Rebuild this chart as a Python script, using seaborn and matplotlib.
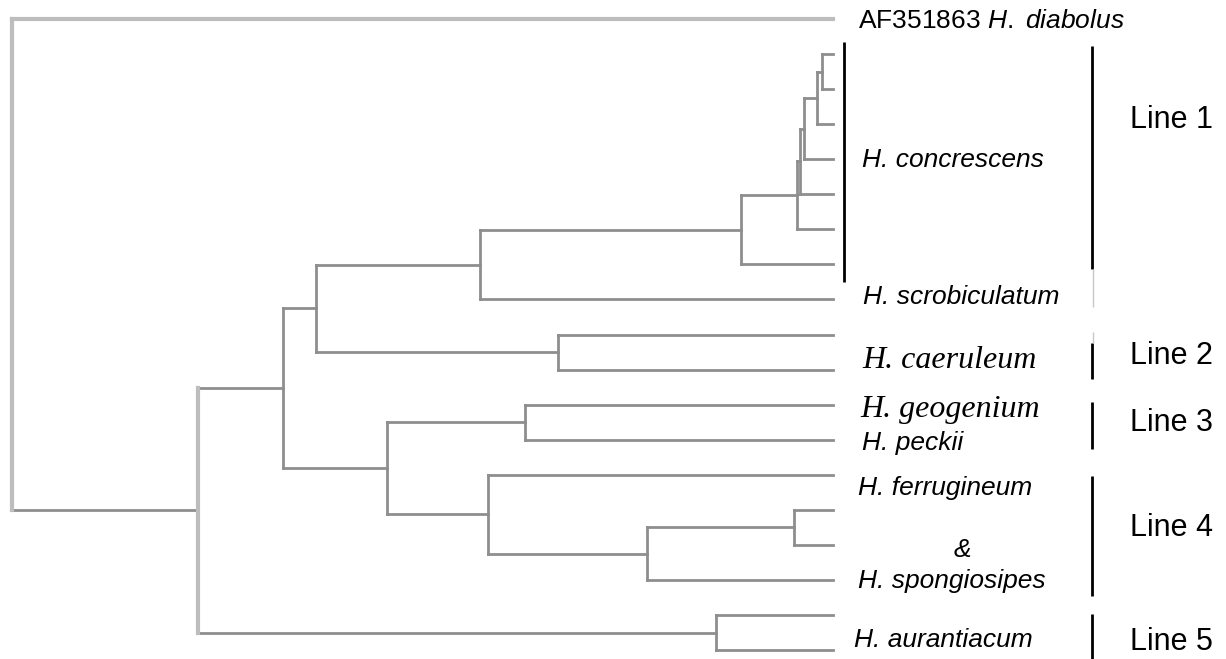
import pandas as pd
import matplotlib.pyplot as plt
import seaborn as sns

sns.set_theme(style='white')
plt.rcParams['font.family'] = ['Liberation Sans', 'DejaVu Sans']
plt.rcParams['text.color'] = 'black'
plt.rcParams['mathtext.fontset'] = 'custom'
plt.rcParams['mathtext.rm'] = 'Liberation Sans'
plt.rcParams['mathtext.it'] = 'Liberation Sans:italic'

# ── Tree data ────────────────────────────────────────
# leaves are numbered 0..18 from top to bottom; internal nodes by name
node_names = ['root', 'ingroup', 'J', 'L', 'N', 'conc', 'c1', 'c2', 'c3',
              'c4', 'c5', 'O', 'M', 'P', 'Q', 'R', 'S', 'K']
node_depth = [0, 186, 271, 304, 468, 729, 785, 788, 792,
              805, 810, 546, 375, 513, 476, 635, 782, 704]
node_children = [[0, 'ingroup'], ['J', 'K'], ['L', 'M'], ['N', 'O'],
                 ['conc', 8], ['c1', 7], ['c2', 6], ['c3', 5], ['c4', 4],
                 ['c5', 3], [1, 2], [9, 10], ['P', 'Q'], [11, 12],
                 [13, 'R'], ['S', 16], [14, 15], [17, 18]]
tip_depth = [821, 821, 821, 821, 821, 821, 821, 821, 821, 821,
             821, 821, 821, 821, 821, 821, 821, 821, 821]

# species labels (text, leaf position, serif?)
species_text = [r'AF351863 $H.\,\,diabolus$', 'H. concrescens', 'H. scrobiculatum',
                'H. caeruleum', 'H. geogenium', 'H. peckii', 'H. ferrugineum',
                '&', 'H. spongiosipes', 'H. aurantiacum']
species_pos = [0.06, 4.02, 7.93, 9.73, 11.15, 12.09, 13.38, 15.15, 16.03, 17.71]
species_x = [846, 850, 851, 850, 848, 850, 846, 950, 846, 842]
species_serif = [False, False, False, True, True, False, False, False, False, False]

# lineage groups
group_names = ['Line 1', 'Line 2', 'Line 3', 'Line 4', 'Line 5']
group_top = [0.77, 9.24, 10.92, 13.03, 16.97]
group_bottom = [7.13, 10.27, 12.26, 16.46, 18.3]
group_label_pos = [2.88, 9.61, 11.52, 14.52, 17.77]

# ── Layout ───────────────────────────────────────────
depth = dict(zip(node_names, node_depth))
children = dict(zip(node_names, node_children))


def node_y(n):
    if isinstance(n, int):
        return float(n)
    kids = children[n]
    return (node_y(kids[0]) + node_y(kids[-1])) / 2


def node_x(n):
    return tip_depth[n] if isinstance(n, int) else depth[n]


rows = []
seg = 0
for n in node_names:
    ys = [node_y(c) for c in children[n]]
    tone = 'light' if n in ('root', 'ingroup') else 'dark'
    rows += [(seg, depth[n], min(ys), tone), (seg, depth[n], max(ys), tone)]
    seg += 1
    for c in children[n]:
        tone = 'light' if (n == 'root' and c == 0) else 'dark'
        cy = node_y(c)
        rows += [(seg, depth[n], cy, tone), (seg, node_x(c), cy, tone)]
        seg += 1
seg_df = pd.DataFrame(rows, columns=['seg', 'x', 'y', 'tone'])

# ── Plot ─────────────────────────────────────────────
fig = plt.figure(figsize=(12.26, 6.59), dpi=100)
ax = fig.add_axes([0, 0, 1, 1])

for tone, color, lw in [('dark', '#8e8e8e', 2.0), ('light', '#bdbdbd', 3.0)]:
    sns.lineplot(data=seg_df[seg_df.tone == tone], x='x', y='y', units='seg',
                 estimator=None, sort=False, color=color, lw=lw, ax=ax,
                 legend=False, solid_capstyle='projecting')

for txt, y, x, serif in zip(species_text, species_pos, species_x, species_serif):
    if serif:
        ax.text(x, y, txt, fontsize=23, family='Liberation Serif',
                style='italic', va='center', ha='left')
    elif txt == '&':
        ax.text(x, y, txt, fontsize=19, style='italic', va='center', ha='center')
    elif txt.startswith('AF'):
        ax.text(x, y, txt, fontsize=19, va='center', ha='left')
    else:
        ax.text(x, y, txt, fontsize=19, style='italic', va='center', ha='left')

# bar left of the H. concrescens label
ax.vlines(832, 0.66, 7.50, color='black', lw=2)

for name, top, bot, ly in zip(group_names, group_top, group_bottom, group_label_pos):
    ax.vlines(1080, top, bot, color='black', lw=2)
    ax.text(1118, ly, name, fontsize=22, va='center', ha='left')
# faint continuation of the Line 1 / Line 2 brackets
ax.vlines(1081, 7.13, 8.21, color='#c8c8c8', lw=1)
ax.vlines(1081, 8.93, 9.24, color='#c8c8c8', lw=1)

ax.set_xlim(-12, 1214)
ax.set_ylim(18.254, -0.542)
ax.axis('off')

plt.savefig('out.png', dpi=100)
plt.close(fig)
